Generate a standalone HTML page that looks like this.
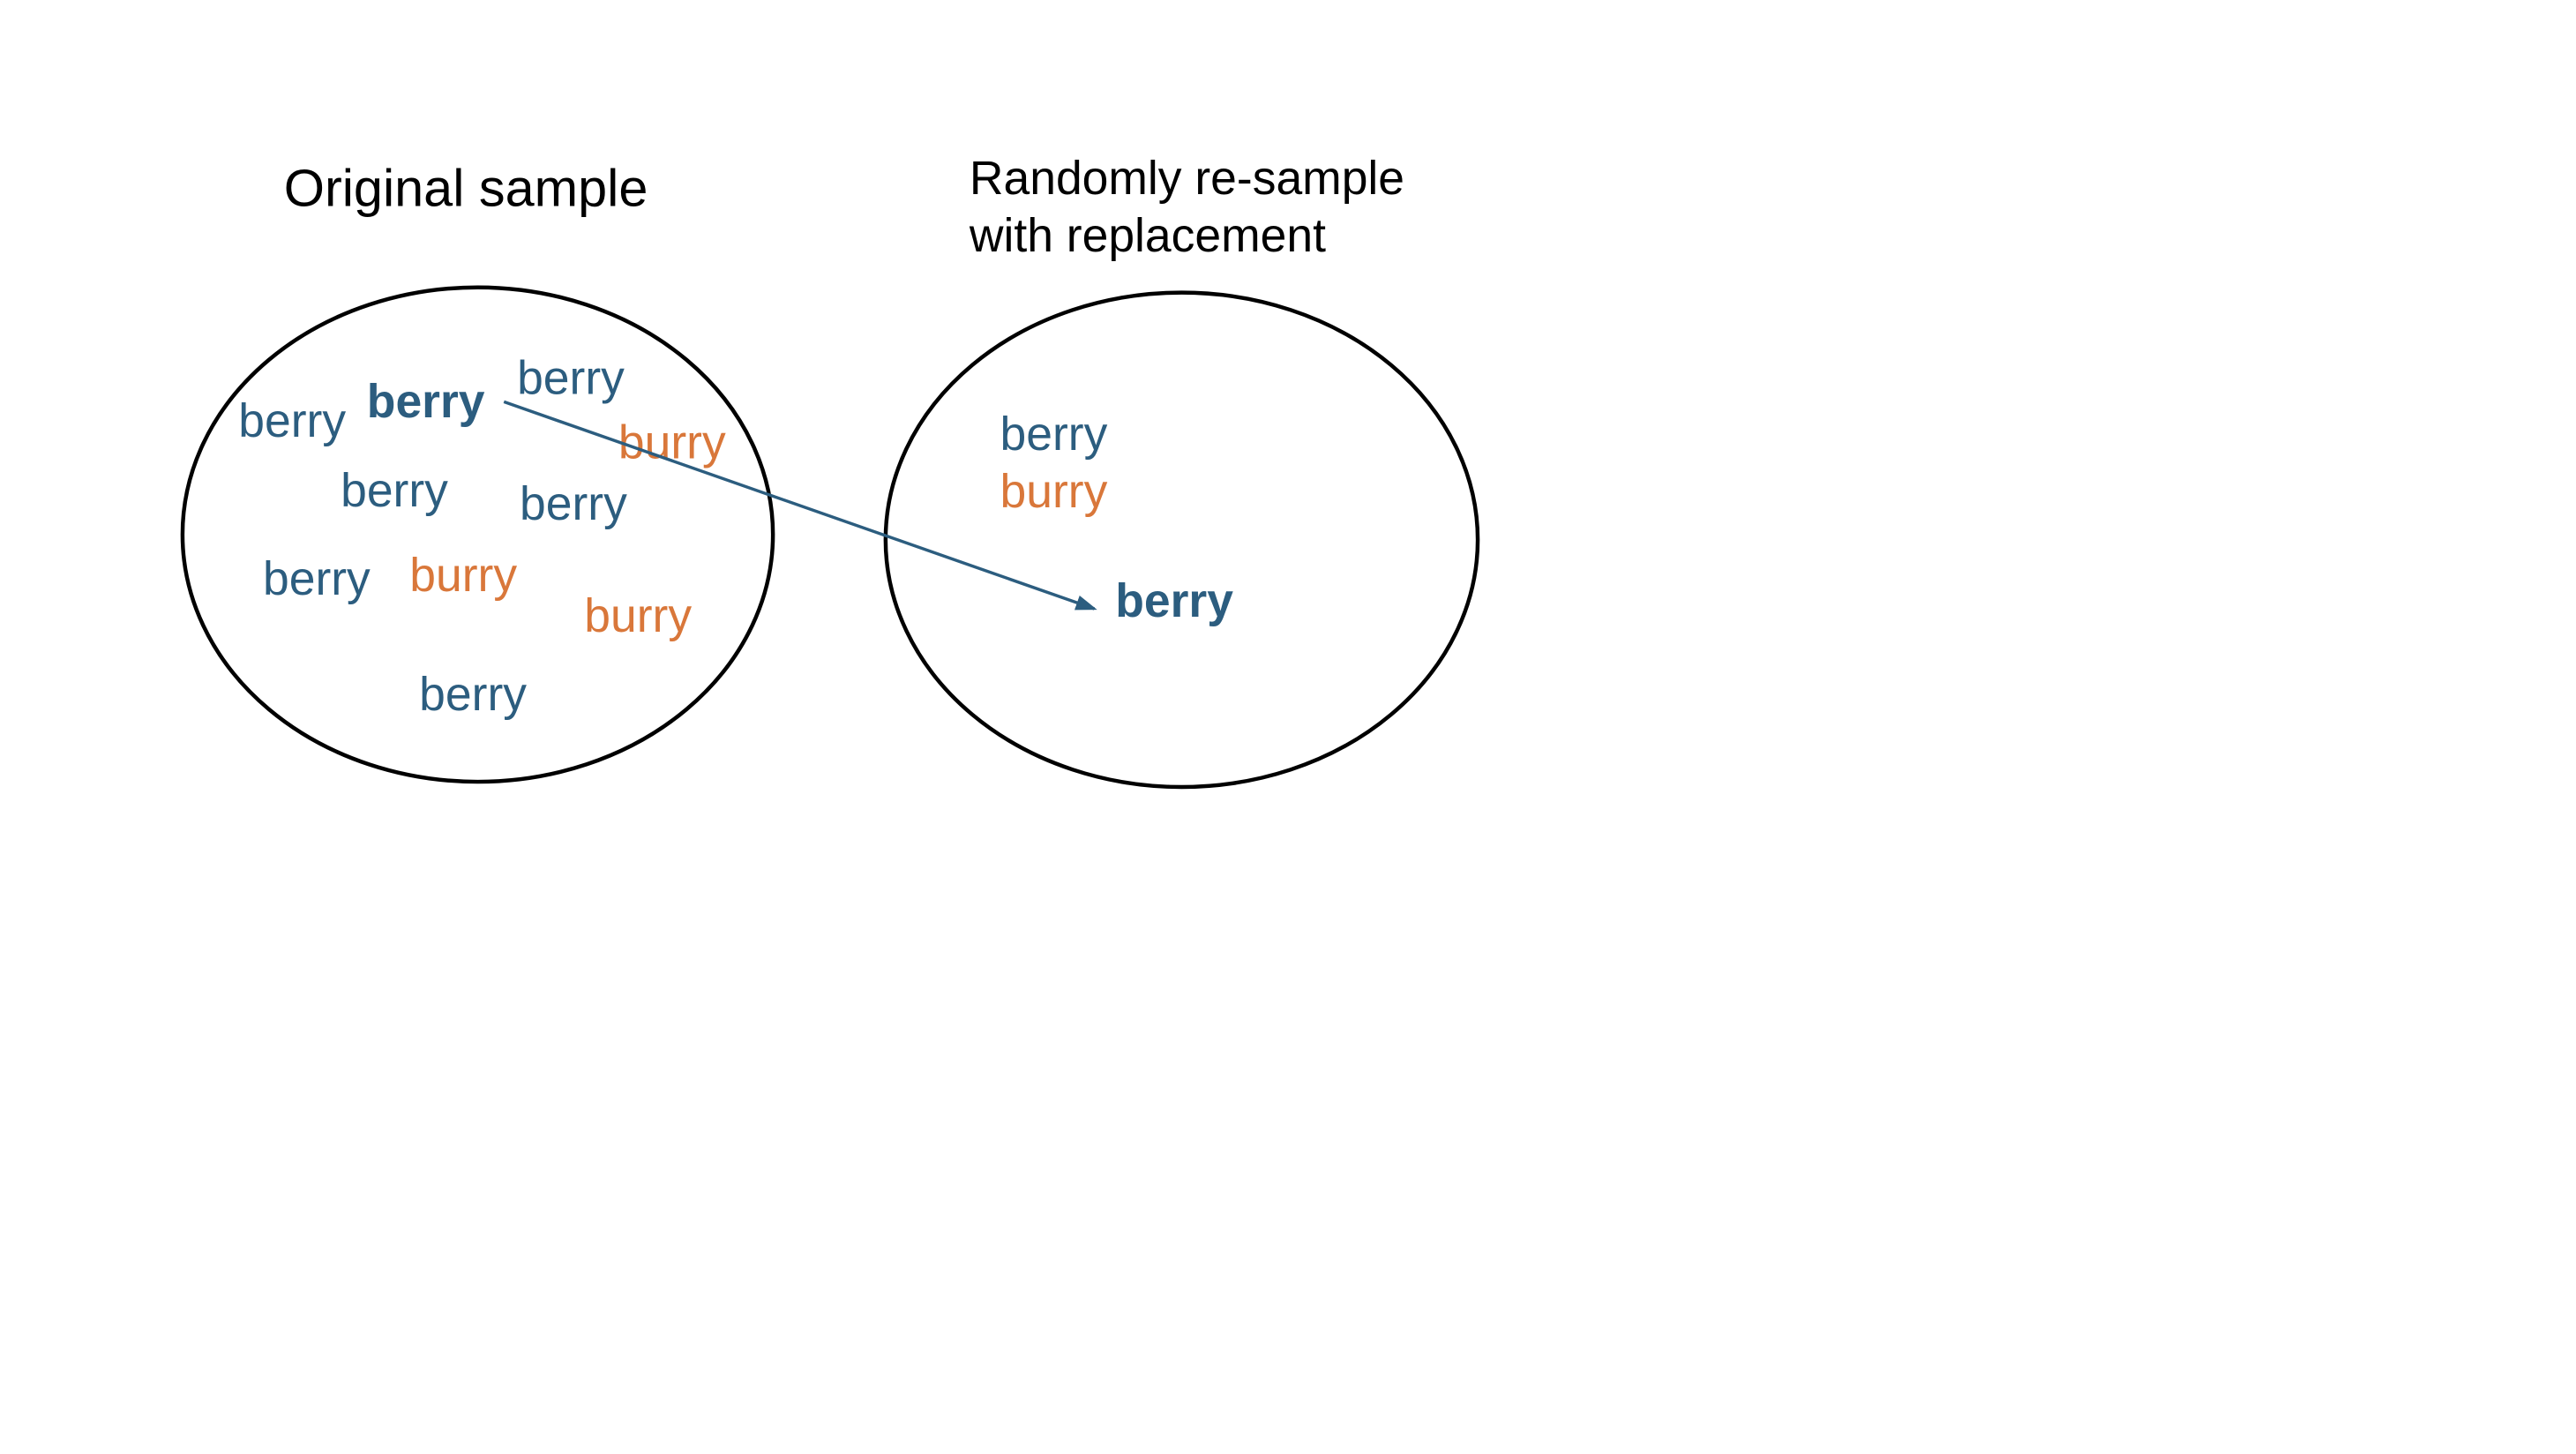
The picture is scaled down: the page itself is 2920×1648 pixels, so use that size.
<!DOCTYPE html>
<html><head><meta charset="utf-8"><style>
html,body{margin:0;padding:0;background:#fff;}
svg{display:block;}
text{font-family:"Liberation Sans",sans-serif;}
.b{fill:#2c5d7f;font-size:54px;}
.o{fill:#d9773a;font-size:54px;}
.t{fill:#000;}
</style></head><body>
<svg width="2920" height="1648" viewBox="0 0 2920 1648" xmlns="http://www.w3.org/2000/svg">
<defs><marker id="ah" markerWidth="7" markerHeight="5" refX="6" refY="2.5" orient="auto" markerUnits="strokeWidth"><path d="M0,0 L7,2.5 L0,5 z" fill="#2c5d7f"/></marker></defs>
<rect width="2920" height="1648" fill="#fff"/>
<g transform="scale(0.99)">
<text class="t" x="325" y="236" style="font-size:60px">Original sample</text>
<text class="t" x="1110" y="222" style="font-size:54px">Randomly re-sample</text>
<text class="t" x="1110" y="288" style="font-size:54px">with replacement</text>
<ellipse cx="547" cy="612" rx="338" ry="283" fill="none" stroke="#000" stroke-width="4.5"/>
<ellipse cx="1353" cy="618" rx="339" ry="283" fill="none" stroke="#000" stroke-width="4.5"/>
<g transform="translate(0,3)">
<text class="b" x="273" y="497">berry</text>
<text class="b" x="420" y="475" font-weight="bold">berry</text>
<text class="b" x="592" y="448">berry</text>
<text class="o" x="708" y="522">burry</text>
<text class="b" x="390" y="577">berry</text>
<text class="b" x="595" y="592">berry</text>
<text class="b" x="301" y="678">berry</text>
<text class="o" x="469" y="674">burry</text>
<text class="o" x="669" y="720">burry</text>
<text class="b" x="480" y="810">berry</text>
<text class="b" x="1145" y="512">berry</text>
<text class="o" x="1145" y="578">burry</text>
<text class="b" x="1277" y="703" font-weight="bold">berry</text>
</g>
<line x1="577" y1="460" x2="1253" y2="697" stroke="#2c5d7f" stroke-width="3.5" marker-end="url(#ah)"/>
</g>
</svg>
</body></html>
